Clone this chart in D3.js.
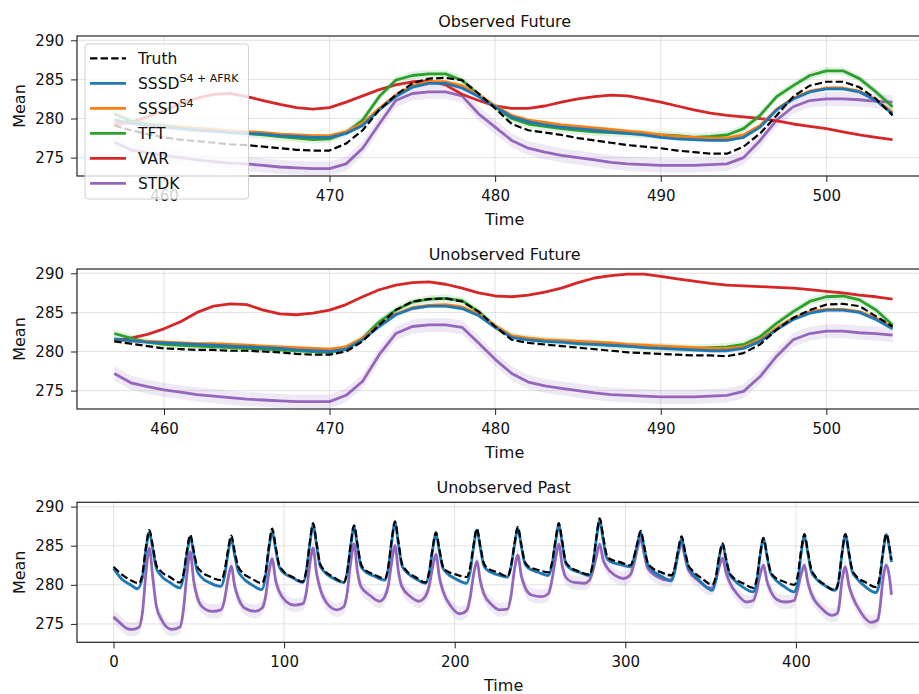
<!DOCTYPE html>
<html>
<head>
<meta charset="utf-8">
<title>Observed / Unobserved forecasts</title>
<script src="https://d3js.org/d3.v7.min.js"></script>
<style>
  body { margin: 0; background: #fff; font-family: "DejaVu Sans", sans-serif; }
  .tick text { font-size: 15px; fill: #111; font-family: "DejaVu Sans", sans-serif; }
  .tick line { stroke: #222; }
  .grid line { stroke: #b0b0b0; stroke-opacity: 0.35; }
  .spine { fill: none; stroke: #222; stroke-width: 1.2px; }
  .lbl { font-size: 16px; fill: #111; }
</style>
</head>
<body>
<div id="chart"></div>
<script>
// ---- data ----
const futureTime = d3.range(457, 505);
const futureTicks = [460, 470, 480, 490, 500];
const pastTicks = [0, 100, 200, 300, 400];
const meanTicks = [275, 280, 285, 290];

// Observed Future
const obsTruth = [279.1,278.5,278.0,277.6,277.3,277.1,276.9,276.7,276.6,276.4,276.2,276.0,275.9,275.9,276.8,278.5,281.1,283.0,284.5,285.1,285.2,284.9,283.2,281.3,279.3,278.5,278.2,277.9,277.5,277.2,276.9,276.6,276.4,276.2,275.9,275.7,275.5,275.5,276.4,278.1,280.4,282.8,284.2,284.7,284.7,284.0,282.5,280.4];
const obsAfrk = [279.8,279.4,279.1,278.9,278.7,278.5,278.4,278.2,278.1,278.0,277.8,277.7,277.6,277.6,278.1,279.1,281.1,282.8,284.0,284.5,284.5,283.9,282.8,281.5,280.2,279.6,279.2,278.9,278.7,278.5,278.3,278.1,277.9,277.6,277.4,277.3,277.2,277.2,277.6,278.9,281.1,282.5,283.4,283.8,283.8,283.4,282.3,280.6];
const obsS4 = [279.6,279.4,279.2,279.0,278.9,278.7,278.6,278.4,278.3,278.2,278.0,277.9,277.8,277.8,278.3,279.4,281.3,283.0,284.2,284.7,284.7,284.2,283.0,281.6,280.4,279.8,279.5,279.2,279.0,278.8,278.6,278.4,278.2,277.9,277.7,277.6,277.5,277.5,277.9,279.1,281.2,282.6,283.5,283.9,283.9,283.5,282.4,280.8];
const obsTFT = [280.6,279.7,279.3,279.1,278.9,278.7,278.5,278.3,278.1,277.9,277.7,277.5,277.3,277.4,278.2,279.8,282.8,284.9,285.5,285.7,285.7,284.9,283.0,281.5,280.0,279.3,279.0,278.7,278.5,278.3,278.2,278.1,278.0,277.9,277.8,277.6,277.7,277.9,278.7,280.4,282.8,284.2,285.5,286.1,286.1,285.1,283.4,281.5];
const obsVAR = [279.2,279.5,280.2,281.0,281.9,282.6,283.1,283.2,282.8,282.3,281.8,281.4,281.2,281.4,282.1,282.9,283.7,284.3,284.7,284.8,284.3,283.1,282.3,281.6,281.3,281.3,281.6,282.1,282.5,282.8,283.0,282.9,282.5,282.1,281.6,281.1,280.7,280.4,280.2,280.0,279.7,279.3,279.0,278.7,278.3,277.9,277.6,277.3];
const obsSTDK = [277.0,276.0,275.6,275.3,275.0,274.7,274.5,274.3,274.2,274.0,273.8,273.7,273.6,273.6,274.2,276.2,279.3,282.3,283.2,283.4,283.4,282.9,280.6,278.9,277.2,276.2,275.7,275.3,275.0,274.7,274.4,274.2,274.1,274.0,274.0,274.0,274.1,274.2,275.0,277.2,279.8,281.5,282.3,282.5,282.5,282.4,282.2,282.1];

// Unobserved Future
const unobsTruth = [281.3,281.0,280.7,280.4,280.3,280.2,280.2,280.1,280.1,280.0,279.9,279.7,279.6,279.6,280.0,281.3,283.4,285.3,286.4,286.7,286.8,286.4,285.1,283.2,281.5,281.1,280.9,280.7,280.5,280.3,280.1,279.9,279.8,279.7,279.6,279.5,279.5,279.4,279.8,280.9,282.8,284.3,285.3,286.0,286.1,285.8,284.5,283.2];
const unobsAfrk = [281.6,281.4,281.2,281.1,281.0,280.9,280.8,280.7,280.6,280.5,280.4,280.2,280.1,280.0,280.3,281.5,283.2,284.7,285.5,285.8,285.8,285.5,284.6,283.1,281.8,281.5,281.3,281.2,281.0,280.9,280.8,280.7,280.5,280.4,280.3,280.2,280.1,280.1,280.4,281.3,282.8,284.1,284.9,285.3,285.3,285.0,284.1,282.9];
const unobsS4 = [281.5,281.4,281.3,281.2,281.1,281.0,281.0,280.9,280.8,280.7,280.6,280.5,280.4,280.3,280.6,281.7,283.3,284.8,285.6,285.9,286.0,285.7,284.8,283.3,282.0,281.7,281.5,281.4,281.3,281.2,281.1,280.9,280.8,280.7,280.6,280.5,280.4,280.4,280.6,281.5,283.0,284.3,285.1,285.4,285.4,285.1,284.3,283.1];
const unobsTFT = [282.3,281.7,281.2,280.9,280.8,280.7,280.6,280.5,280.4,280.3,280.2,280.1,280.0,279.9,280.3,281.7,283.8,285.3,286.3,286.7,286.8,286.5,285.1,283.2,282.0,281.6,281.4,281.3,281.1,281.0,280.8,280.7,280.6,280.6,280.5,280.4,280.5,280.6,280.9,281.9,283.6,285.1,286.4,287.0,287.1,286.6,285.3,283.4];
const unobsVAR = [281.4,281.7,282.2,282.9,283.8,285.0,285.8,286.1,286.0,285.3,284.8,284.7,284.9,285.3,286.0,287.0,287.9,288.5,288.8,288.9,288.6,288.1,287.5,287.1,287.0,287.2,287.6,288.1,288.8,289.4,289.7,289.9,289.9,289.6,289.3,289.0,288.7,288.5,288.4,288.3,288.2,288.1,287.9,287.7,287.5,287.2,287.0,286.7];
const unobsSTDK = [277.2,276.0,275.5,275.1,274.8,274.5,274.3,274.1,273.9,273.8,273.7,273.6,273.6,273.6,274.4,276.2,279.6,282.3,283.2,283.4,283.4,283.1,281.1,279.0,277.2,276.1,275.6,275.3,275.0,274.7,274.5,274.4,274.3,274.2,274.2,274.2,274.3,274.4,274.9,276.8,279.4,281.5,282.3,282.6,282.6,282.4,282.3,282.1];

// Unobserved Past: [time, mean] vertices
const pastTruth = [[0,282.3],[5,281.3],[10,280.6],[15,280.2],
  [17,281.5],[19,284.8],[21,287.0],[23,285.0],[25,282.6],[27,281.9],[33,281.0],[39,280.3],
  [41,281.4],[43,284.3],[45,286.4],[47,284.4],[49,282.4],[51,281.8],[57,281.0],[63,280.6],
  [65,281.7],[67,284.3],[69,286.3],[71,284.3],[73,282.4],[75,281.7],[81,280.8],[87,280.2],
  [89,281.4],[91,284.8],[93,287.2],[95,285.0],[97,282.6],[99,281.9],[105,281.0],[111,280.4],
  [113,281.8],[115,285.3],[117,287.9],[119,285.4],[121,282.8],[123,282.0],[129,281.0],[135,280.3],
  [137,281.7],[139,285.1],[141,287.6],[143,285.2],[145,282.7],[147,282.0],[153,281.3],[159,280.8],
  [161,282.2],[163,285.6],[165,288.1],[167,285.5],[169,282.8],[171,282.0],[177,281.0],[183,280.3],
  [185,281.6],[187,284.6],[189,286.7],[191,284.6],[193,282.4],[195,281.8],[201,281.3],[207,281.0],
  [209,282.2],[211,285.0],[213,287.2],[215,285.0],[217,282.8],[219,282.2],[225,281.6],[231,281.1],
  [233,282.4],[235,285.2],[237,287.4],[239,285.2],[241,283.0],[243,282.4],[249,281.9],[255,281.6],
  [257,282.8],[259,285.6],[261,287.9],[263,285.6],[265,283.0],[267,282.4],[273,281.7],[279,281.3],
  [281,282.7],[283,286.0],[285,288.5],[287,286.2],[289,283.9],[291,283.3],[297,282.9],[303,282.5],
  [305,283.5],[307,285.3],[309,286.9],[311,285.0],[313,282.9],[315,282.3],[321,281.6],[327,281.2],
  [329,282.2],[331,284.5],[333,286.2],[335,284.3],[337,282.5],[339,281.9],[345,280.8],[351,280.0],
  [353,281.0],[355,283.6],[357,285.3],[359,283.4],[361,281.6],[363,281.0],[369,280.2],[375,279.6],
  [377,280.7],[379,283.9],[381,286.0],[383,283.9],[385,281.8],[387,281.1],[393,280.4],[399,280.0],
  [401,281.1],[403,284.3],[405,286.5],[407,284.3],[409,282.0],[411,281.2],[417,280.0],[423,279.3],
  [425,280.5],[427,284.0],[429,286.5],[431,284.2],[433,281.9],[435,281.2],[441,280.3],[447,279.7],
  [449,280.9],[451,284.2],[453,286.5],[455,284.6],[456,283.2]];
const pastAfrk = [[0,282.1],[5,280.7],[10,280.0],[14,279.5],
  [17,281.0],[19,284.5],[21,286.7],[23,284.6],[25,282.2],[27,281.4],[33,280.3],[39,279.6],
  [41,281.0],[43,283.9],[45,286.1],[47,284.0],[49,281.8],[51,281.1],[57,280.2],[63,279.8],
  [65,281.0],[67,283.8],[69,285.9],[71,283.8],[73,281.8],[75,281.1],[81,280.0],[87,279.4],
  [89,280.9],[91,284.4],[93,286.8],[95,284.6],[97,282.4],[99,281.7],[105,280.9],[111,280.3],
  [113,281.7],[115,285.1],[117,287.6],[119,285.1],[121,282.5],[123,281.8],[129,280.8],[135,280.3],
  [137,281.6],[139,284.9],[141,287.4],[143,284.9],[145,282.4],[147,281.8],[153,281.1],[159,280.6],
  [161,282.0],[163,285.4],[165,287.9],[167,285.2],[169,282.5],[171,281.8],[177,280.8],[183,280.2],
  [185,281.5],[187,284.4],[189,286.5],[191,284.3],[193,282.2],[195,281.6],[201,280.7],[207,280.2],
  [209,281.6],[211,284.7],[213,287.0],[215,284.7],[217,282.5],[219,281.9],[225,281.3],[231,281.0],
  [233,282.3],[235,285.0],[237,287.2],[239,285.0],[241,282.8],[243,282.2],[249,281.6],[255,281.2],
  [257,282.5],[259,285.3],[261,287.6],[263,285.3],[265,282.8],[267,282.2],[273,281.6],[279,281.2],
  [281,282.6],[283,285.8],[285,288.2],[287,285.8],[289,283.5],[291,283.0],[297,282.6],[303,282.3],
  [305,283.3],[307,285.1],[309,286.7],[311,284.8],[313,282.7],[315,282.0],[321,281.1],[327,280.5],
  [329,281.7],[331,284.2],[333,285.9],[335,284.0],[337,282.2],[339,281.6],[345,280.2],[351,279.3],
  [353,280.6],[355,283.4],[357,285.2],[359,283.2],[361,281.4],[363,280.8],[369,279.7],[375,279.1],
  [377,280.3],[379,283.7],[381,285.9],[383,283.7],[385,281.6],[387,280.9],[393,279.8],[399,279.1],
  [401,280.2],[403,283.9],[405,286.2],[407,284.0],[409,281.7],[411,281.0],[417,279.9],[423,279.3],
  [425,280.4],[427,283.9],[429,286.4],[431,284.1],[433,281.7],[435,281.0],[441,279.7],[447,279.0],
  [449,280.3],[451,284.0],[453,286.4],[455,284.4],[456,282.9]];
const pastSTDK = [[0,275.9],[4,275.1],[8,274.4],[11,274.3],[15,274.6],
  [17,276.5],[19,281.5],[21,284.7],[23,281.0],[25,277.4],[28,275.6],[34,274.3],[39,274.6],
  [41,276.8],[43,281.3],[45,284.2],[47,280.5],[49,278.5],[52,277.2],[58,276.6],[63,276.8],
  [65,278.0],[67,280.6],[69,282.4],[71,279.9],[73,278.4],[77,277.0],[83,276.6],[87,277.0],
  [89,278.3],[91,281.4],[93,283.3],[95,280.6],[97,279.2],[101,277.9],[106,277.4],[111,277.6],
  [113,279.0],[115,282.5],[117,284.7],[119,281.5],[121,279.6],[126,277.4],[131,276.8],[135,277.2],
  [137,279.0],[139,282.8],[141,285.2],[143,281.7],[145,279.8],[150,278.7],[156,277.9],[159,278.5],
  [161,279.8],[163,282.8],[165,285.0],[167,281.7],[169,279.8],[174,278.5],[179,277.9],[183,278.6],
  [185,279.8],[187,282.2],[189,283.9],[191,281.0],[193,279.3],[198,277.2],[203,276.3],[207,276.7],
  [209,278.3],[211,281.2],[213,283.0],[215,280.5],[217,278.9],[222,277.4],[226,276.8],[231,276.9],
  [233,278.6],[235,281.9],[237,283.8],[239,281.2],[241,279.8],[245,278.7],[251,278.5],[255,278.9],
  [257,280.6],[259,283.2],[261,285.2],[263,282.5],[265,281.0],[270,280.3],[276,280.2],[279,280.6],
  [281,281.8],[283,283.6],[285,285.2],[287,283.2],[289,282.3],[294,281.2],[299,280.8],[303,281.3],
  [305,282.6],[307,284.6],[309,285.9],[311,284.0],[313,282.2],[319,281.0],[325,280.6],[327,280.7],
  [329,282.0],[331,284.0],[333,285.3],[335,283.5],[337,281.9],[343,280.5],[349,279.6],[351,279.6],
  [353,280.5],[355,282.3],[357,283.4],[359,281.6],[361,280.4],[366,278.7],[371,277.8],[375,278.0],
  [377,279.2],[379,281.3],[381,282.5],[383,280.5],[385,279.3],[389,278.1],[394,277.8],[399,278.0],
  [401,279.4],[403,281.3],[405,282.5],[407,280.3],[409,278.9],[415,277.0],[421,276.1],[424,276.3],
  [425,276.8],[427,280.5],[429,282.3],[431,280.0],[433,278.6],[438,276.5],[444,275.2],[448,275.5],
  [449,276.6],[451,280.6],[453,282.5],[455,280.7],[456,278.7]];

// spread of the shaded bands (± around the mean)
const bandSpread = { afrk: 0.25, s4: 0.25, tft: 0.5, stdk: 0.9 };

// ---- layout ----
const width = 919, height = 694;
const axLeft = 77, axH = 140;
const panelTops = [36, 269, 502.3];
const colors = { truth: "#000", afrk: "#1f77b4", s4: "#ff7f0e", tft: "#2ca02c", var: "#d62728", stdk: "#9467bd" };

const svg = d3.select("#chart").append("svg")
  .attr("width", width).attr("height", height)
  .style("font-family", "DejaVu Sans, sans-serif");

const y = d3.scaleLinear().domain([272.65, 290.55]);

function futureSeries(truth, afrk, s4, tft, vr, stdk) {
  const pts = a => a.map((v, i) => [futureTime[i], v]);
  return [
    { key: "stdk", data: pts(stdk) },
    { key: "var", data: pts(vr) },
    { key: "tft", data: pts(tft) },
    { key: "s4", data: pts(s4) },
    { key: "afrk", data: pts(afrk) },
    { key: "truth", data: pts(truth) }
  ];
}

const panels = [
  { title: "Observed Future", top: panelTops[0], domain: [454.75, 506.4], ticks: futureTicks, curve: d3.curveLinear,
    series: futureSeries(obsTruth, obsAfrk, obsS4, obsTFT, obsVAR, obsSTDK) },
  { title: "Unobserved Future", top: panelTops[1], domain: [454.75, 506.4], ticks: futureTicks, curve: d3.curveLinear,
    series: futureSeries(unobsTruth, unobsAfrk, unobsS4, unobsTFT, unobsVAR, unobsSTDK) },
  { title: "Unobserved Past", top: panelTops[2], domain: [-21.4, 478.8], ticks: pastTicks, curve: d3.curveMonotoneX,
    series: [
      { key: "stdk", data: pastSTDK },
      { key: "afrk", data: pastAfrk },
      { key: "truth", data: pastTruth }
    ] }
];

panels.forEach((p, pi) => {
  const pxPerUnit = pi < 2 ? 16.56 : 1.706;
  const axRight = axLeft + (p.domain[1] - p.domain[0]) * pxPerUnit;
  const x = d3.scaleLinear().domain(p.domain).range([axLeft, axRight]);
  const yy = y.copy().range([p.top + axH, p.top]);

  const g = svg.append("g");
  const clipId = "clip" + pi;
  g.append("clipPath").attr("id", clipId).append("rect")
    .attr("x", axLeft).attr("y", p.top).attr("width", axRight - axLeft).attr("height", axH);

  // grid
  const grid = g.append("g").attr("class", "grid");
  grid.selectAll(".gx").data(p.ticks).join("line")
    .attr("x1", d => x(d)).attr("x2", d => x(d)).attr("y1", p.top).attr("y2", p.top + axH);
  grid.selectAll(".gy").data(meanTicks).join("line")
    .attr("x1", axLeft).attr("x2", axRight).attr("y1", d => yy(d)).attr("y2", d => yy(d));

  const plot = g.append("g").attr("clip-path", `url(#${clipId})`);

  // bands
  p.series.filter(s => bandSpread[s.key]).forEach(s => {
    const w = bandSpread[s.key];
    plot.append("path").datum(s.data)
      .attr("fill", colors[s.key]).attr("fill-opacity", 0.15)
      .attr("d", d3.area().curve(p.curve)
        .x(d => x(d[0])).y0(d => yy(d[1] - w)).y1(d => yy(d[1] + w)));
  });

  // lines
  p.series.forEach(s => {
    const path = plot.append("path").datum(s.data)
      .attr("fill", "none")
      .attr("stroke", colors[s.key])
      .attr("stroke-linejoin", "round")
      .attr("d", d3.line().curve(p.curve).x(d => x(d[0])).y(d => yy(d[1])));
    if (s.key === "truth") path.attr("stroke-width", 2.2).attr("stroke-dasharray", "7.4,3.2");
    else path.attr("stroke-width", 2.8);
  });

  // axes
  const xa = g.append("g").attr("transform", `translate(0,${p.top + axH})`)
    .call(d3.axisBottom(x).tickValues(p.ticks).tickSize(6).tickPadding(8.5));
  xa.select(".domain").remove();
  const ya = g.append("g").attr("transform", `translate(${axLeft},0)`)
    .call(d3.axisLeft(yy).tickValues(meanTicks).tickSize(6).tickPadding(7));
  ya.select(".domain").remove();

  g.append("rect").attr("class", "spine")
    .attr("x", axLeft).attr("y", p.top).attr("width", axRight - axLeft).attr("height", axH);

  const cx = (axLeft + axRight) / 2;
  g.append("text").attr("class", "lbl").attr("x", cx).attr("y", p.top - 9)
    .attr("text-anchor", "middle").text(p.title);
  g.append("text").attr("class", "lbl").attr("x", cx).attr("y", p.top + axH + 48.5)
    .attr("text-anchor", "middle").text("Time");
  g.append("text").attr("class", "lbl")
    .attr("transform", `translate(25,${p.top + axH / 2}) rotate(-90)`)
    .attr("text-anchor", "middle").text("Mean");
});

// legend (upper left of first panel, drawn over everything)
const legendItems = [
  { key: "truth", name: "Truth", sup: "" },
  { key: "afrk", name: "SSSD", sup: "S4 + AFRK" },
  { key: "s4", name: "SSSD", sup: "S4" },
  { key: "tft", name: "TFT", sup: "" },
  { key: "var", name: "VAR", sup: "" },
  { key: "stdk", name: "STDK", sup: "" }
];
const lg = svg.append("g").attr("transform", "translate(85,44)");
lg.append("rect").attr("width", 163.5).attr("height", 155).attr("rx", 3)
  .attr("fill", "#fff").attr("fill-opacity", 0.8).attr("stroke", "#d0d0d0");
legendItems.forEach((it, i) => {
  const cy = 14.3 + i * 25;
  const ln = lg.append("line").attr("x1", 5).attr("x2", 41).attr("y1", cy).attr("y2", cy)
    .attr("stroke", colors[it.key]);
  if (it.key === "truth") ln.attr("stroke-width", 2.2).attr("stroke-dasharray", "7.4,3.2");
  else ln.attr("stroke-width", 2.8);
  const t = lg.append("text").attr("x", 53).attr("y", cy + 5.5)
    .attr("font-size", 15.5).attr("fill", "#111").text(it.name);
  if (it.sup) t.append("tspan").attr("dy", -7).attr("font-size", 11).text(it.sup);
});
</script>
</body>
</html>
